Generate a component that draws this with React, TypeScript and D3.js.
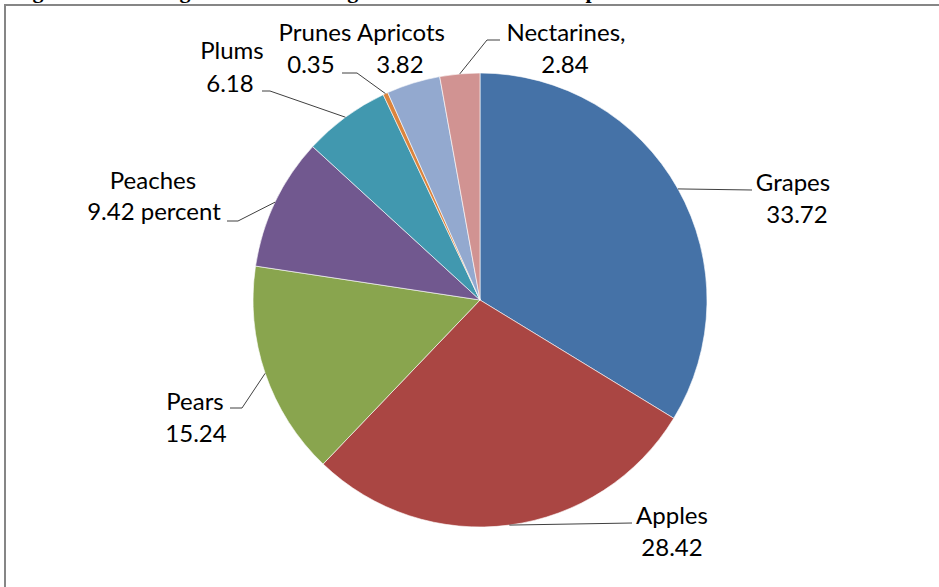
import React from "react";
import * as d3 from "d3";

// ---- Data ----
const categories = ["Grapes", "Apples", "Pears", "Peaches", "Plums", "Prunes", "Apricots", "Nectarines"];
const shares = [33.72, 28.42, 15.24, 9.42, 6.18, 0.35, 3.82, 2.84];
const labelLine1 = ["Grapes", "Apples", "Pears", "Peaches", "Plums", "Prunes", "Apricots", "Nectarines,"];
const labelLine2 = ["33.72", "28.42", "15.24", "9.42 percent", "6.18", "0.35", "3.82", "2.84"];
const colors = ["#4572A7", "#AA4643", "#89A54E", "#71588F", "#4198AF", "#DB843D", "#93A9CF", "#D19392"];
const titleText = "Figure 3 Percentage shares of average U.S. noncitrus fruit imports";

// ---- Layout (label placement, leader elbows) ----
type Layout = { l1: [number, number]; l2: [number, number]; pts: [number, number][] };
const layout: Layout[] = [
  { l1: [793, 183], l2: [797, 215], pts: [[752, 190]] },
  { l1: [672, 516], l2: [672, 548], pts: [[632, 523]] },
  { l1: [195, 402], l2: [196, 434], pts: [[242, 408], [230, 408]] },
  { l1: [153, 181], l2: [154, 212], pts: [[238, 221], [227, 221]] },
  { l1: [232, 51], l2: [230, 84], pts: [[270, 91], [262, 91]] },
  { l1: [315, 33], l2: [311, 65], pts: [[357, 73], [342, 73]] },
  { l1: [401, 33], l2: [400, 65], pts: [] },
  { l1: [566, 33], l2: [565, 65], pts: [[487, 40], [500, 40]] },
];

const W = 939;
const H = 587;
const cx = 480;
const cy = 300;
const R = 227;

export default function App() {
  const data = categories.map((c, i) => ({ name: c, value: shares[i], i }));
  const pie = d3
    .pie<{ name: string; value: number; i: number }>()
    .value((d) => d.value)
    .sort(null);
  const arcs = pie(data);
  const arcGen = d3
    .arc<d3.PieArcDatum<{ name: string; value: number; i: number }>>()
    .innerRadius(0)
    .outerRadius(R);

  const font = "Lato, 'Open Sans', sans-serif";

  return (
    <svg
      width={W}
      height={H}
      style={{ position: "fixed", left: 0, top: 0, background: "#fff" }}
    >
      <rect x={0} y={0} width={W} height={H} fill="#fff" />
      <text
        x={13}
        y={-2}
        fontFamily="'Liberation Serif', 'Times New Roman', serif"
        fontWeight="bold"
        fontSize={22}
        fill="#000"
      >
        {titleText}
      </text>
      <rect x={5} y={5} width={W + 20} height={H + 20} fill="#fff" stroke="#868686" strokeWidth={2} />
      <g transform={`translate(${cx},${cy})`}>
        {arcs.map((a) => (
          <path key={a.data.name} d={arcGen(a) || ""} fill={colors[a.data.i]} stroke="#fff" strokeWidth={0.6} />
        ))}
      </g>
      {arcs.map((a) => {
        const L = layout[a.data.i];
        if (!L.pts.length) return null;
        const mid = (a.startAngle + a.endAngle) / 2;
        const sx = cx + R * Math.sin(mid);
        const sy = cy - R * Math.cos(mid);
        const pts: [number, number][] = [[sx, sy], ...L.pts];
        return (
          <path
            key={"l" + a.data.name}
            d={d3.line()(pts) || ""}
            fill="none"
            stroke="#404040"
            strokeWidth={1}
          />
        );
      })}
      {arcs.map((a) => {
        const L = layout[a.data.i];
        return (
          <g key={"t" + a.data.name} fontFamily={font} fontSize={24} fill="#000" textAnchor="middle">
            <text x={L.l1[0]} y={L.l1[1] + 8}>{labelLine1[a.data.i]}</text>
            <text x={L.l2[0]} y={L.l2[1] + 8}>{labelLine2[a.data.i]}</text>
          </g>
        );
      })}
    </svg>
  );
}
